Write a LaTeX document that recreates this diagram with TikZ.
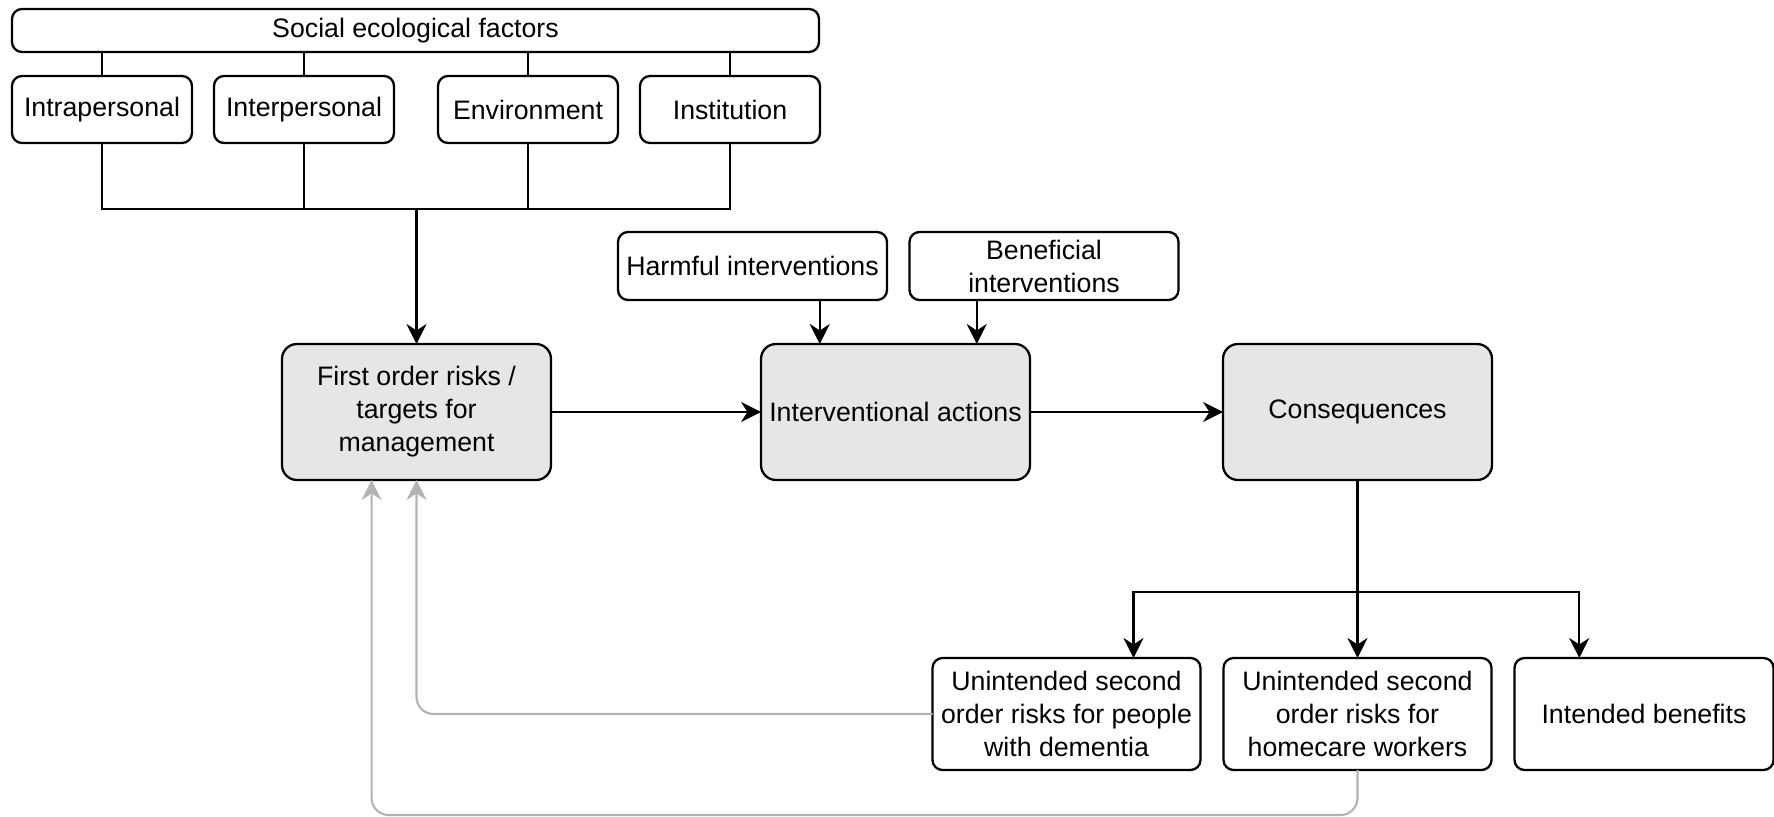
\documentclass[tikz,border=0pt]{standalone}
\usepackage{fontspec}
\setmainfont{Liberation Sans}
\usetikzlibrary{arrows.meta,positioning,calc}
\definecolor{boxgray}{HTML}{E6E6E6}
\definecolor{loopgray}{HTML}{B3B3B3}

\begin{document}
\begin{tikzpicture}[
line width=1.3pt,
every node/.style={font=\fontsize{15.2}{18.8}\selectfont},
box/.style={draw, rounded corners=0.2cm, align=center, inner sep=2pt, outer sep=0pt},
factor/.style={box, minimum width=3.6cm, minimum height=1.34cm},
inbox/.style={box, minimum width=5.38cm, minimum height=1.36cm},
mainbox/.style={box, fill=boxgray, rounded corners=0.3cm, minimum width=5.38cm, minimum height=2.72cm},
outbox/.style={box, minimum width=5.36cm, minimum height=2.24cm},
arrow/.style={-{Stealth[length=0.4cm, width=0.4cm, inset=0.13cm]}},
feedback/.style={arrow, line width=1.2pt, draw=loopgray, rounded corners=0.34cm}
]
\useasboundingbox (0,0) rectangle (35.48,-16.34);

% -------- Social ecological factors --------
\node[box, minimum width=16.14cm, minimum height=0.86cm] (sef) at (8.31,-0.61) {Social ecological factors};
\node[factor, below right=0.48cm and 0cm of sef.south west] (intra) {Intrapersonal};
\node[factor, right=0.44cm of intra] (inter) {Interpersonal};
\node[factor, right=0.88cm of inter] (env) {Environment};
\node[factor, right=0.44cm of env] (inst) {Institution};

% -------- Main chain --------
\node[mainbox] (first) at (8.33,-8.24) {First order risks /\\ targets for\\ management};
\node[mainbox, right=4.2cm of first] (act) {Interventional actions};
\node[mainbox, right=3.86cm of act] (cons) {Consequences};

\node[inbox] (harm) at (15.05,-5.32) {Harmful interventions};
\node[inbox] (bene) at (20.88,-5.32) {Beneficial\\ interventions};

% -------- Outcomes --------
\node[outbox, below=3.56cm of cons] (hcw) {Unintended second\\ order risks for\\ homecare workers};
\node[outbox, left=0.46cm of hcw] (dem) {Unintended second\\ order risks for people\\ with dementia};
\node[outbox, minimum width=5.18cm, right=0.46cm of hcw] (ben) {Intended benefits};

% -------- Connectors --------
\foreach \f in {intra,inter,env,inst}
  \draw (\f.north) -- (\f.north |- sef.south);

\coordinate (bus) at ($(first.north)+(0,2.7)$);
\draw (intra.south) |- (bus) -| (inst.south);
\draw (inter.south) -- (inter.south |- bus);
\draw (env.south) -- (env.south |- bus);
\draw[arrow] (bus) -- (first.north);

\coordinate (harmout) at ($(harm.south west)!0.75!(harm.south east)$);
\coordinate (beneout) at ($(bene.south west)!0.25!(bene.south east)$);
\draw[arrow] (harmout) -- (harmout |- act.north);
\draw[arrow] (beneout) -- (beneout |- act.north);

\draw[arrow] (first) -- (act);
\draw[arrow] (act) -- (cons);

\coordinate (fork) at ($(cons.south)!0.63!(hcw.north)$);
\coordinate (demin) at ($(dem.north west)!0.75!(dem.north east)$);
\coordinate (benin) at ($(ben.north west)!0.25!(ben.north east)$);
\draw[arrow] (cons.south) -- (hcw.north);
\draw[arrow] (fork) -| (demin);
\draw[arrow] (fork) -| (benin);

% -------- Feedback --------
\coordinate (firstin) at ($(first.south west)!0.333!(first.south east)$);
\draw[feedback] (dem.west) -| (first.south);
\draw[feedback] (hcw.south) -- ++(0,-0.9) -| (firstin);

\end{tikzpicture}
\end{document}
